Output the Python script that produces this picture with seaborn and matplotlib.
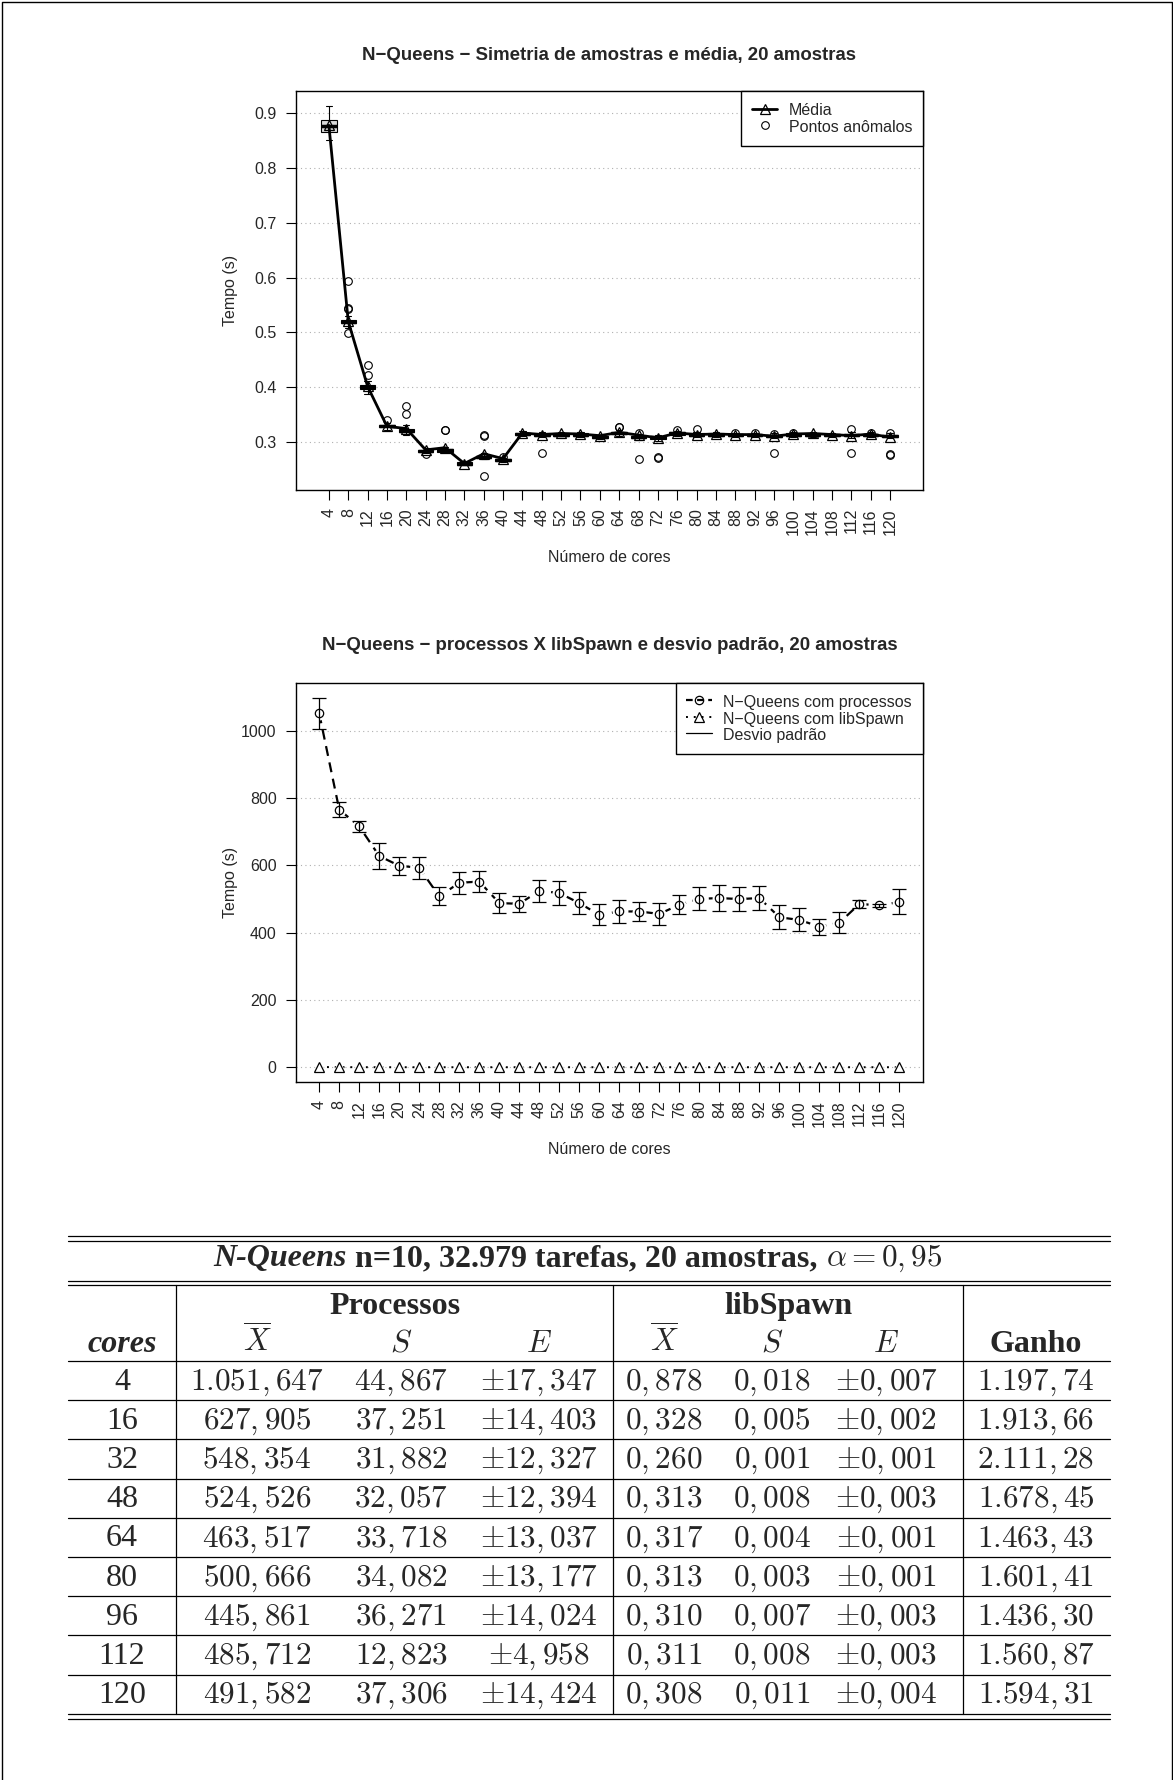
import matplotlib
matplotlib.use('Agg')
import matplotlib.pyplot as plt
from matplotlib.lines import Line2D
import seaborn as sns

sns.set_theme(style='ticks')
plt.rcParams['font.family'] = ['Liberation Sans', 'DejaVu Sans']
plt.rcParams['mathtext.fontset'] = 'cm'

# Número de cores (eixo x dos dois gráficos)
cores = [4, 8, 12, 16, 20, 24, 28, 32, 36, 40, 44, 48, 52, 56, 60,
         64, 68, 72, 76, 80, 84, 88, 92, 96, 100, 104, 108, 112, 116, 120]

# libSpawn: resumo dos boxplots (20 amostras por ponto), em segundos
lib_med = [0.877, 0.519, 0.400, 0.328, 0.320, 0.283, 0.284, 0.260, 0.272, 0.266,
           0.314, 0.313, 0.313, 0.313, 0.309, 0.316, 0.309, 0.308, 0.315, 0.313,
           0.313, 0.312, 0.312, 0.311, 0.313, 0.313, 0.312, 0.312, 0.312, 0.311]
lib_q1 = [0.865, 0.516, 0.396, 0.326, 0.317, 0.281, 0.282, 0.258, 0.270, 0.265,
          0.312, 0.311, 0.311, 0.311, 0.307, 0.314, 0.306, 0.304, 0.313, 0.311,
          0.311, 0.310, 0.310, 0.309, 0.311, 0.311, 0.310, 0.310, 0.310, 0.309]
lib_q3 = [0.887, 0.522, 0.403, 0.331, 0.323, 0.285, 0.286, 0.262, 0.274, 0.268,
          0.316, 0.315, 0.315, 0.315, 0.311, 0.318, 0.311, 0.310, 0.317, 0.315,
          0.315, 0.314, 0.314, 0.313, 0.315, 0.315, 0.314, 0.314, 0.314, 0.313]
lib_wlo = [0.851, 0.507, 0.388, 0.321, 0.312, 0.279, 0.281, 0.257, 0.268, 0.263,
           0.310, 0.308, 0.310, 0.309, 0.305, 0.311, 0.303, 0.301, 0.311, 0.309,
           0.309, 0.308, 0.308, 0.306, 0.309, 0.309, 0.308, 0.307, 0.308, 0.306]
lib_whi = [0.914, 0.530, 0.410, 0.335, 0.331, 0.288, 0.290, 0.264, 0.280, 0.271,
           0.319, 0.318, 0.317, 0.317, 0.313, 0.321, 0.314, 0.312, 0.319, 0.318,
           0.317, 0.316, 0.316, 0.316, 0.317, 0.317, 0.316, 0.317, 0.317, 0.316]
lib_out = [[], [0.593, 0.543, 0.545, 0.498], [0.440, 0.422], [0.339], [0.365, 0.350],
           [0.278], [0.322, 0.321], [], [0.313, 0.311, 0.238], [0.272],
           [], [0.280], [], [], [], [0.327, 0.326], [0.315, 0.269], [0.272, 0.271],
           [0.321], [0.324], [], [0.316], [0.316], [0.314, 0.279], [0.316], [], [],
           [0.323, 0.280], [0.316], [0.316, 0.277, 0.275]]
lib_mean = [0.878, 0.520, 0.401, 0.328, 0.324, 0.285, 0.289, 0.260, 0.278, 0.269,
            0.316, 0.313, 0.315, 0.314, 0.311, 0.317, 0.312, 0.307, 0.316, 0.313,
            0.314, 0.313, 0.313, 0.310, 0.314, 0.315, 0.313, 0.311, 0.314, 0.308]

# processos: média e desvio padrão (s)
proc_mean = [1051.6, 766, 716, 627.9, 599, 593, 508, 548.4, 552, 488,
             486, 524.5, 518, 488, 453, 463.5, 463, 456, 483, 500.7,
             503, 500, 503, 445.9, 438, 418, 430, 485.7, 481, 491.6]
proc_sd = [44.9, 22, 17, 37.3, 27, 32, 27, 31.9, 31, 30,
           23, 32.1, 37, 33, 31, 33.7, 27, 33, 28, 34.1,
           39, 36, 36, 36.3, 34, 24, 31, 12.8, 5, 37.3]

# tabela
tab_cores = [4, 16, 32, 48, 64, 80, 96, 112, 120]
tab_proc_x = [1051.647, 627.905, 548.354, 524.526, 463.517, 500.666, 445.861, 485.712, 491.582]
tab_proc_s = [44.867, 37.251, 31.882, 32.057, 33.718, 34.082, 36.271, 12.823, 37.306]
tab_proc_e = [17.347, 14.403, 12.327, 12.394, 13.037, 13.177, 14.024, 4.958, 14.424]
tab_lib_x = [0.878, 0.328, 0.260, 0.313, 0.317, 0.313, 0.310, 0.311, 0.308]
tab_lib_s = [0.018, 0.005, 0.001, 0.008, 0.004, 0.003, 0.007, 0.008, 0.011]
tab_lib_e = [0.007, 0.002, 0.001, 0.003, 0.001, 0.001, 0.003, 0.003, 0.004]
tab_ganho = [1197.74, 1913.66, 2111.28, 1678.45, 1463.43, 1601.41, 1436.30, 1560.87, 1594.31]

W, H = 1173, 1780
fig = plt.figure(figsize=(W / 100, H / 100), dpi=100)


def rect(l, t, r, b):
    return [l / W, 1 - b / H, (r - l) / W, (b - t) / H]


def style_axes(ax):
    for s in ax.spines.values():
        s.set_visible(True)
        s.set_color('black')
        s.set_linewidth(1)
    ax.tick_params(axis='both', direction='out', length=7, width=0.8, color='black',
                   labelsize=11.5, bottom=True, left=True, top=False, right=False)
    ax.tick_params(axis='x', pad=6, labelrotation=90)
    ax.tick_params(axis='y', pad=7)
    ax.yaxis.grid(True, linestyle=(0, (1, 3)), color='#b0b0b0', lw=0.8)
    ax.xaxis.grid(False)
    ax.set_axisbelow(True)
    ax.set_xlabel('')
    ax.set_ylabel('')


def legend(ax, handles, labels):
    lg = ax.legend(handles, labels, loc='upper right', borderaxespad=0, fancybox=False,
                   edgecolor='black', framealpha=1, fontsize=11.5, handlelength=1.6,
                   handleheight=1.19, handletextpad=0.7, borderpad=0.68, labelspacing=0.0)
    lg.get_frame().set_linewidth(1)
    return lg


# ---- gráfico 1: boxplots libSpawn ----
ax1 = fig.add_axes(rect(296, 91, 923, 490))
stats = []
for i in range(len(cores)):
    stats.append(dict(med=lib_med[i], q1=lib_q1[i], q3=lib_q3[i],
                      whislo=lib_wlo[i], whishi=lib_whi[i], fliers=lib_out[i]))
ax1.bxp(stats, positions=cores, widths=3.2, patch_artist=True, manage_ticks=False,
        boxprops=dict(facecolor='#d9d9d9', edgecolor='black', lw=0.8),
        medianprops=dict(color='black', lw=2.5),
        whiskerprops=dict(color='black', lw=0.8),
        capprops=dict(color='black', lw=0.8), capwidths=1.3,
        flierprops=dict(marker='o', mfc='none', mec='black', ms=5.5, mew=0.8))
sns.lineplot(x=cores, y=lib_mean, ax=ax1, color='black', lw=2, marker='^', ms=7,
             mfc='none', mec='black', mew=0.9, zorder=4)
ax1.set_xlim(-2.8, 126.8)
ax1.set_ylim(0.2117, 0.9408)
ax1.set_xticks(cores)
ax1.set_xticklabels([str(c) for c in cores])
ax1.set_yticks([0.3, 0.4, 0.5, 0.6, 0.7, 0.8, 0.9])
ax1.set_yticklabels(['0.3', '0.4', '0.5', '0.6', '0.7', '0.8', '0.9'])
style_axes(ax1)
legend(ax1,
       [Line2D([], [], color='black', lw=2, marker='^', ms=7, mfc='none', mew=0.9),
        Line2D([], [], ls='none', marker='o', ms=5.5, mfc='none', mec='black', mew=0.8)],
       ['Média', 'Pontos anômalos'])

# ---- gráfico 2: processos x libSpawn ----
ax2 = fig.add_axes(rect(296, 682.7, 922.7, 1082.3))
sns.lineplot(x=cores, y=proc_mean, ax=ax2, color='black', lw=1.6, zorder=2)
ax2.lines[-1].set_dashes((4.5, 3))
ax2.plot(cores, proc_mean, ls='none', marker='o', ms=10, mfc='white', mec='none', zorder=3)
ax2.plot(cores, proc_mean, ls='none', marker='o', ms=6, mfc='none', mec='black', mew=0.9, zorder=4)
ax2.errorbar(cores, proc_mean, yerr=proc_sd, fmt='none', ecolor='black', elinewidth=0.9,
             capsize=4.7, capthick=0.9, zorder=5)
sns.lineplot(x=cores, y=lib_mean, ax=ax2, color='black', lw=1.4, zorder=2)
ax2.lines[-1].set_dashes((1, 3))
ax2.plot(cores, lib_mean, ls='none', marker='^', ms=11, mfc='white', mec='none', zorder=3)
ax2.plot(cores, lib_mean, ls='none', marker='^', ms=7, mfc='none', mec='black', mew=0.9, zorder=4)
ax2.set_xlim(-0.64, 124.64)
ax2.set_ylim(-44.5, 1143)
ax2.set_xticks(cores)
ax2.set_xticklabels([str(c) for c in cores])
ax2.set_yticks([0, 200, 400, 600, 800, 1000])
ax2.set_yticklabels(['0', '200', '400', '600', '800', '1000'])
style_axes(ax2)
legend(ax2,
       [Line2D([], [], color='black', lw=1.6, dashes=(3, 2), marker='o', ms=6, mfc='none', mew=0.9),
        Line2D([], [], color='black', lw=1.4, dashes=(1, 3), marker='^', ms=7, mfc='none', mew=0.9),
        Line2D([], [], color='black', lw=0.9)],
       ['N\u2212Queens com processos', 'N\u2212Queens com libSpawn', 'Desvio padrão'])

# títulos e rótulos
fig.text(609.5 / W, 1 - 55 / H, 'N\u2212Queens \u2212 Simetria de amostras e média, 20 amostras',
         ha='center', va='center', fontsize=13.4, weight='bold')
fig.text(609.5 / W, 1 - 645 / H, 'N\u2212Queens \u2212 processos X libSpawn e desvio padrão, 20 amostras',
         ha='center', va='center', fontsize=13.4, weight='bold')
for yc, yl in [(290.5, 557.7), (882.5, 1150)]:
    fig.text(230 / W, 1 - yc / H, 'Tempo (s)', rotation=90, ha='center', va='center', fontsize=11.5)
    fig.text(609.5 / W, 1 - yl / H, 'Número de cores', ha='center', va='center', fontsize=11.5)

# ---- tabela (camada em pixels) ----
ax0 = fig.add_axes([0, 0, 1, 1])
ax0.set_xlim(0, W)
ax0.set_ylim(H, 0)
ax0.axis('off')
ax0.patch.set_visible(False)

ax0.plot([1.5, 1.5, W - 1.5, W - 1.5], [H, 1.5, 1.5, H], color='black', lw=1)

tl, tr = 68, 1110
vcols = [176, 613, 963]
row_top = 1361
row_h = 39.2
n = len(tab_cores)
row_bot = row_top + n * row_h
for y in [1236, 1240.5, 1280.5, 1285, row_bot + 5]:
    ax0.plot([tl, tr], [y, y], color='black', lw=0.9)
for i in range(n + 1):
    y = row_top + i * row_h
    ax0.plot([tl, tr], [y, y], color='black', lw=0.9)
for x in vcols:
    ax0.plot([x, x], [1285, row_bot], color='black', lw=0.9)


def br(v, d):
    s = f'{v:,.{d}f}'
    return s.replace(',', '#').replace('.', ',').replace('#', '.')


FS = 23
FN = 22.5
serif = ['Liberation Serif', 'DejaVu Serif']
xc = dict(cores=122, px=257, ps=401, pe=539, lx=664, ls=772, le=886, g=1036)

# linha de título (peças centradas em conjunto)
pieces = [('N-Queens', dict(family=serif, weight='bold', style='italic', fontsize=FS)),
          (' n=10, 32.979 tarefas, 20 amostras, ', dict(family=serif, weight='bold', fontsize=FS)),
          (r'$\alpha = 0,95$', dict(fontsize=FN))]
renderer = fig.canvas.get_renderer()
objs = []
for s, kw in pieces:
    t = ax0.text(0, 1266, s, ha='left', va='baseline', **kw)
    objs.append(t)
widths = [t.get_window_extent(renderer).width for t in objs]
x = 578 - sum(widths) / 2
for t, w in zip(objs, widths):
    t.set_x(x)
    x += w

ax0.text((vcols[0] + vcols[1]) / 2, 1314, 'Processos', fontsize=FS, family=serif,
         weight='bold', ha='center', va='baseline')
ax0.text((vcols[1] + vcols[2]) / 2, 1314, 'libSpawn', fontsize=FS, family=serif,
         weight='bold', ha='center', va='baseline')
hb = 1352
ax0.text(xc['cores'], hb, 'cores', fontsize=FS, family=serif, weight='bold',
         style='italic', ha='center', va='baseline')
ax0.text(xc['g'], hb, 'Ganho', fontsize=FS, family=serif, weight='bold', ha='center', va='baseline')
for k in ['px', 'lx']:
    ax0.text(xc[k], hb, r'$\overline{X}$', fontsize=FN, ha='center', va='baseline')
for k in ['ps', 'ls']:
    ax0.text(xc[k], hb, r'$S$', fontsize=FN, ha='center', va='baseline')
for k in ['pe', 'le']:
    ax0.text(xc[k], hb, r'$E$', fontsize=FN, ha='center', va='baseline')

for i in range(n):
    yb = row_top + (i + 0.5) * row_h + 9
    cells = [('px', '$' + br(tab_proc_x[i], 3) + '$'),
             ('ps', '$' + br(tab_proc_s[i], 3) + '$'),
             ('pe', r'$\pm' + br(tab_proc_e[i], 3) + '$'),
             ('lx', '$' + br(tab_lib_x[i], 3) + '$'),
             ('ls', '$' + br(tab_lib_s[i], 3) + '$'),
             ('le', r'$\pm' + br(tab_lib_e[i], 3) + '$'),
             ('g', '$' + br(tab_ganho[i], 2) + '$')]
    ax0.text(xc['cores'], yb, str(tab_cores[i]), fontsize=FS, family=serif,
             ha='center', va='baseline')
    for k, s in cells:
        ax0.text(xc[k], yb, s, fontsize=FN, ha='center', va='baseline')

fig.savefig('out.png', dpi=100)
